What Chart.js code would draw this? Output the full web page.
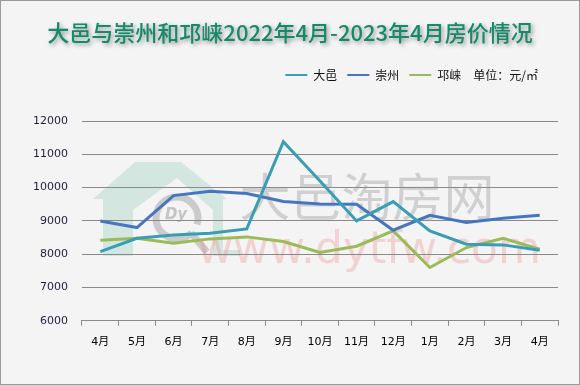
<!DOCTYPE html>
<html>
<head>
<meta charset="utf-8">
<script src="https://cdn.jsdelivr.net/npm/chart.js@4"></script>
<style>
body { margin: 0; background: #fff; }
#wrap { width: 578px; height: 383px; border: 1px solid #9a9a9a; background: #f4f4f4; }
canvas { display: block; }
</style>
</head>
<body>
<div id="wrap"><canvas id="myChart" width="578" height="383"></canvas></div>
<script>
// months on the x axis
const months = ['4月', '5月', '6月', '7月', '8月', '9月', '10月', '11月', '12月', '1月', '2月', '3月', '4月']
// price per square metre
const dayi = [8080, 8480, 8580, 8630, 8760, 11380, 10200, 9000, 9580, 8700, 8300, 8280, 8120]
const chongzhou = [9000, 8800, 9760, 9890, 9820, 9580, 9510, 9500, 8720, 9170, 8950, 9080, 9170]
const qionglai = [8420, 8480, 8330, 8460, 8520, 8380, 8050, 8240, 8700, 7600, 8200, 8480, 8150]
const seriesNames = ['大邑', '崇州', '邛崃']
const seriesColors = ['#3a9db6', '#4677be', '#9bbb59']
const unitText = '单位：元/㎡'
const yMin = 6000
const yMax = 12000
const yStep = 1000

const titleText = '大邑与崇州和邛崃2022年4月-2023年4月房价情况'
const cjk = '"Noto Sans CJK SC", "DejaVu Sans", sans-serif'

// title with a soft shadow
const titlePlugin = {
    id: 'titleShadow',
    afterDraw(chart) {
        const c = chart.ctx
        c.save()
        c.font = '500 22px ' + cjk
        c.textAlign = 'center'
        c.textBaseline = 'middle'
        c.shadowColor = 'rgba(0,0,0,0.4)'
        c.shadowOffsetX = 2
        c.shadowOffsetY = 2
        c.shadowBlur = 4
        c.fillStyle = '#138a68'
        c.fillText(titleText, chart.width / 2, 32)
        c.restore()
    }
}

// background watermark (logo + site name)
const watermark = {
    id: 'watermark',
    beforeDraw(chart) {
        const c = chart.ctx
        c.save()
        c.fillStyle = '#d3e6df'
        c.beginPath()
        c.moveTo(92, 198); c.lineTo(134, 161); c.lineTo(180, 161); c.lineTo(226, 198)
        c.lineTo(222, 198); c.lineTo(222, 249); c.lineTo(239, 249); c.lineTo(239, 255)
        c.lineTo(212, 255); c.lineTo(212, 209); c.lineTo(176, 177); c.lineTo(132, 209)
        c.lineTo(132, 255); c.lineTo(102, 255); c.lineTo(102, 198)
        c.closePath()
        c.fill()

        c.strokeStyle = '#cbcbcb'
        c.lineWidth = 7
        c.beginPath()
        c.arc(176, 217, 21, 0.25 * Math.PI, 2.1 * Math.PI)
        c.stroke()
        c.beginPath()
        c.moveTo(190, 232); c.lineTo(206, 251)
        c.stroke()
        c.fillStyle = '#c4c4c4'
        c.font = 'italic bold 15px "DejaVu Sans", sans-serif'
        c.textAlign = 'center'
        c.textBaseline = 'middle'
        c.fillText('Dy', 175, 214)

        c.fillStyle = 'rgba(150,150,150,0.38)'
        c.font = '51px ' + cjk
        c.fillText('大邑淘房网', 366, 196)
        c.fillStyle = 'rgba(236,140,140,0.32)'
        c.font = '44px "DejaVu Sans", sans-serif'
        c.textBaseline = 'alphabetic'
        c.fillText('www.dytfw.com', 368, 262)
        c.restore()
    }
}

// extra room under the legend, and pull it in from the right edge
const legendSpace = {
    id: 'legendSpace',
    beforeInit(chart) {
        const fit = chart.legend.fit
        chart.legend.fit = function () {
            fit.call(this)
            this.height += 30
        }
    },
    afterLayout(chart) {
        chart.legend.right = chart.chartArea.right - 10
        chart.legend.width = chart.legend.right - chart.legend.left
    }
}

const ctx = document.getElementById('myChart').getContext('2d')
const myChart = new Chart(ctx, {
    type: 'line',
    data: {
        labels: months,
        datasets: [dayi, chongzhou, qionglai].map((vals, i) => ({
            label: seriesNames[i],
            data: vals,
            borderColor: seriesColors[i],
            backgroundColor: seriesColors[i],
            borderWidth: 3,
            pointRadius: 0,
            tension: 0,
            fill: false
        }))
    },
    options: {
        responsive: false,
        animation: false,
        events: [],
        layout: { padding: { top: 58, left: 18, right: 21, bottom: 25 } },
        plugins: {
            title: { display: false },
            tooltip: { enabled: false },
            legend: {
                position: 'top',
                align: 'end',
                fullSize: false,
                labels: {
                    usePointStyle: true,
                    pointStyle: 'line',
                    pointStyleWidth: 22,
                    padding: 10,
                    color: '#111',
                    font: { size: 12, family: cjk },
                    generateLabels(chart) {
                        const items = Chart.defaults.plugins.legend.labels.generateLabels(chart)
                        items.forEach(it => { it.lineWidth = 2 })
                        items[items.length - 1].text += '\u3000' + unitText
                        return items
                    }
                }
            }
        },
        scales: {
            x: {
                offset: true,
                grid: { display: true, drawOnChartArea: false, tickLength: 5, color: '#8a8a8a', offset: true },
                border: { display: true, color: '#8a8a8a' },
                ticks: { color: '#000', padding: 10, font: { size: 11, family: '"DejaVu Sans", "Noto Sans CJK SC", sans-serif' } }
            },
            y: {
                min: yMin,
                max: yMax,
                grid: { color: '#8a8a8a', drawTicks: false },
                border: { display: false },
                ticks: {
                    stepSize: yStep,
                    padding: 14,
                    color: '#1e1e40',
                    font: { size: 11, family: '"DejaVu Sans", sans-serif' },
                    callback: v => String(v)
                }
            }
        }
    },
    plugins: [watermark, legendSpace, titlePlugin]
})
</script>
</body>
</html>
